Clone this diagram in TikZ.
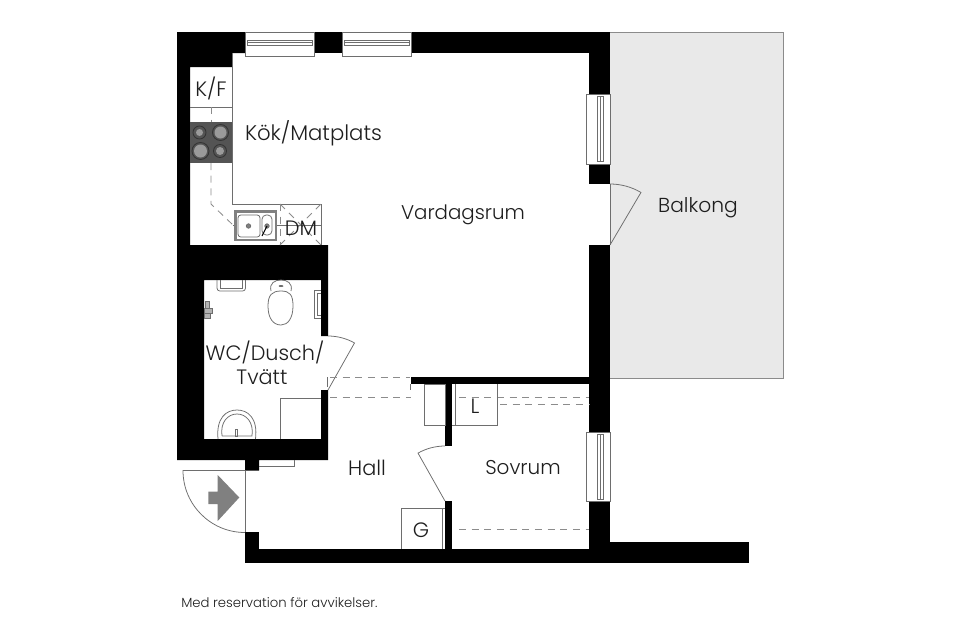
\documentclass[tikz,border=0pt]{standalone}
\usepackage{fontspec}
\setmainfont{Poppins}[UprightFont=* Light]
\definecolor{linegray}{HTML}{6E6E6E}
\definecolor{dashgray}{HTML}{8C8C8C}
\definecolor{balkonggray}{HTML}{E9E9E9}
\definecolor{hobgray}{HTML}{545454}
\definecolor{ringgray}{HTML}{9A9A9A}
\definecolor{textblack}{HTML}{1E1E1E}
\tikzset{
  wall/.style={fill=black, draw=none},
  fixture/.style={draw=linegray, line width=0.55pt},
  dashline/.style={draw=dashgray, line width=0.6pt, dash pattern=on 5pt off 4pt},
  hobring/.style={draw=black!80, fill=hobgray, line width=0.6pt},
  hobplate/.style={fill=ringgray},
  roomlabel/.style={text=textblack, font=\fontsize{14.8}{18}\selectfont, inner sep=0pt},
}
\begin{document}
\begin{tikzpicture}[x=0.025cm, y=-0.025cm]
\useasboundingbox (0,0) rectangle (960,640);

% balcony
\fill[balkonggray] (610,32) rectangle (783,378.5);
\draw[fixture, draw=linegray!80] (610,32) -- (783,32) -- (783,378.5) -- (610,378.5);

% walls
\fill[wall] (177,32) -- (245,32) -- (245,53) -- (232,53) -- (232,67) -- (190,67) -- (190,245) -- (328,245) -- (328,336) -- (321,336) -- (321,280) -- (204,280) -- (204,439) -- (321,439) -- (321,390) -- (328,390) -- (328,460) -- (259,460) -- (259,470.5) -- (245,470.5) -- (245,460) -- (177,460) -- cycle;
\fill[wall] (314,32) rectangle (342,53);
\fill[wall] (411,32) rectangle (610,53);
\fill[wall] (589,32) rectangle (610,94);
\fill[wall] (589,164) rectangle (610,184);
\fill[wall] (589,245) rectangle (610,432);
\fill[wall] (589,501.5) rectangle (610,563);
\fill[wall] (410.5,377) rectangle (589,384);
\fill[wall] (445,384) rectangle (452,446);
\fill[wall] (445,501) rectangle (452,549);
\fill[wall] (245,549) rectangle (749,563);
\fill[wall] (610,542) rectangle (749,563);
\fill[wall] (245,532) rectangle (259,549);

% windows
\draw[fixture, fill=white] (245,32) rectangle (314,56);
\draw[fixture] (247,40) rectangle (312,45);
\draw[fixture] (247,42.5) -- (312,42.5);
\draw[fixture, fill=white] (342,32) rectangle (411,56);
\draw[fixture] (344,40) rectangle (409,45);
\draw[fixture] (344,42.5) -- (409,42.5);
\draw[fixture, fill=white] (586,94) rectangle (610,164);
\draw[fixture] (597,96) rectangle (603,161);
\draw[fixture] (600,96) -- (600,161);
\draw[fixture, fill=white] (586,432) rectangle (610,501.5);
\draw[fixture] (597,434) rectangle (603,499);
\draw[fixture] (600,434) -- (600,499);

% kitchen
\draw[fixture] (232,53) -- (232,204) -- (321,204) -- (321,245);
\draw[fixture] (190,107) -- (232,107);
\fill[hobgray] (190,122) rectangle (232,163);
\draw[hobring] (199.5,132.5) circle (6.5);
\fill[hobplate] (199.5,132.5) circle (3.5);
\draw[hobring] (220.5,132.5) circle (8);
\fill[hobplate] (220.5,132.5) circle (6);
\draw[hobring] (200.5,151) circle (8.5);
\fill[hobplate] (200.5,151) circle (6.5);
\draw[hobring] (220,151) circle (6.5);
\fill[hobplate] (220,151) circle (4);
\draw[dashline] (211,107) -- (211,122);
\draw[dashline] (211,163) -- (211,204) -- (233,225);
\draw[dashline] (280,204) -- (280,245);
\draw[dashline] (280,245) -- (321,204);
\draw[dashline] (280,204) -- (321,245);
\draw[fixture] (233,225) -- (321,225);
\draw[draw=gray, fill=white, line width=1.5pt] (235.5,211.5) rectangle (276,240);
\draw[fixture, rounded corners=2pt] (238,215) rectangle (260,237);
\draw[fixture, rounded corners=3pt] (262,215) rectangle (272,235);
\draw[fixture, fill=gray] (248.5,226) circle (2.2);
\draw[fixture, fill=gray] (267,226) circle (2.2);
\draw[black, line width=0.7pt] (267,226) -- (262,236);

% bathroom
\draw[fixture, rounded corners=2pt] (217,280) -- (217,291) -- (245.5,291) -- (245.5,280);
\draw[fixture] (220,280) -- (220,288) -- (242.5,288) -- (242.5,280);
\draw[fixture] (268,306) .. controls (268,295) and (272,291) .. (281,291) .. controls (290,291) and (293,295) .. (293,306) .. controls (293,318) and (288,325) .. (281,325) .. controls (273,325) and (268,318) .. (268,306);
\draw[fixture] (271,291) .. controls (269,283) and (275,280) .. (281,280) .. controls (287,280) and (293,283) .. (291,291);
\fill[linegray] (281,286) ellipse (2.5 and 1);
\draw[fixture] (321,290) -- (314,290) -- (314,318) -- (321,318);
\draw[fixture] (321,293) -- (317,293) -- (317,315) -- (321,315);
\draw[fixture, fill=black!30] (205,301) rectangle (209.5,308);
\draw[fixture, fill=black!30] (204,308) rectangle (212,313);
\draw[fixture, fill=black!30] (204,313) rectangle (210,318);
\draw[fixture] (280,439) -- (280,398) -- (321,398);
\draw[fixture] (218,439) .. controls (216,418) and (226,410) .. (237,410) .. controls (248,410) and (258,418) .. (255.5,439);
\draw[fixture] (222,436) .. controls (220,422) and (228,414) .. (237,414) .. controls (246,414) and (254,422) .. (252,436) -- (222,436);
\draw[fixture] (235,429) rectangle (237.5,436);
\draw[fixture] (328,336) arc[start angle=-90, end angle=-60.6, radius=54] -- (328,390);
\draw[fixture] (327,377) -- (327,387);

% hall and bedroom
\draw[dashline] (330,377) -- (410,377);
\draw[dashline] (330,397.5) -- (411,397.5);
\draw[dashline] (459,397.5) -- (589,397.5);
\draw[dashline] (500,404) -- (589,404);
\draw[dashline] (459,529) -- (589,529);
\draw[fixture] (410.5,384) -- (410.5,390);
\draw[fixture] (424,384) rectangle (445,425);
\draw[fixture] (452,425) -- (497,425) -- (497,384);
\draw[fixture] (455.5,384) -- (455.5,425);
\draw[fixture] (401,549) -- (401,508) -- (445,508);
\draw[fixture] (442,508) -- (442,549);
\draw[fixture] (445,446) arc[start angle=-90, end angle=-119.4, radius=55] -- (445,501);
\draw[fixture] (259,466.5) -- (294,466.5) -- (294,460);

% front door
\draw[fixture] (245,470.5) -- (183,470.5) arc[start angle=180, end angle=90, radius=62];
\draw[fixture] (245,470.5) -- (245,532);
\fill[gray] (208.3,491.7) -- (217.7,491.7) -- (217.7,475) -- (239.3,497.5) -- (217.7,521) -- (217.7,504) -- (208.3,504) -- cycle;

% balcony door
\draw[fixture] (610,184) arc[start angle=-90, end angle=-59.5, radius=61] -- (610,245);
\draw[fixture] (610,184) -- (610,245);

% labels
\node[roomlabel] (kf) at (211,88) {K/F};
\node[roomlabel, font=\fontsize{15.1}{18}\selectfont] (kok) at (313.5,133) {Kök/Matplats};
\node[roomlabel] (dm) at (301,228) {DM};
\node[roomlabel, font=\fontsize{14.1}{18}\selectfont] (vardagsrum) at (463,215) {Vardagsrum};
\node[roomlabel, font=\fontsize{14.4}{18}\selectfont] (balkong) at (698,207.5) {Balkong};
\node[roomlabel] (wc) at (265,352) {WC/Dusch/};
\node[roomlabel] (tvatt) at (262,377) {Tvätt};
\node[roomlabel] (hall) at (367,467.5) {Hall};
\node[roomlabel, font=\fontsize{14.2}{18}\selectfont] (sovrum) at (523,468) {Sovrum};
\node[roomlabel] (forrad) at (475,406.5) {L};
\node[roomlabel] (garderob) at (421,530) {G};
\node[text=textblack, font=\fontsize{9.4}{10}\selectfont, inner sep=0pt, anchor=west] (reservation) at (181,602.5) {Med reservation för avvikelser.};
\end{tikzpicture}
\end{document}
